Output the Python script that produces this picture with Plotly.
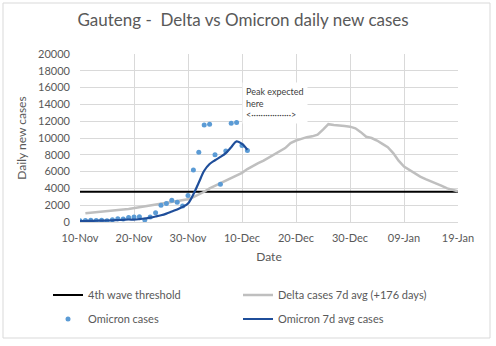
import plotly.graph_objects as go
import pandas as pd

# ---- data ----
omicron_start = "2021-11-10"
omicron_cases = [150, 180, 200, 170, 220, 150, 280, 400, 350, 550, 600, 620, 250, 600,
                 1100, 2000, 2200, 2600, 2350, 1900, 3150, 6200, 8300, 11550, 11650,
                 8000, 4500, 8450, 11750, 11850, 9100, 8500]
omicron_7d = [100, 120, 140, 150, 170, 180, 200, 230, 260, 300, 280, 340, 420, 520,
              650, 800, 1000, 1250, 1500, 1800, 2200, 3300, 4700, 6100, 6900, 7350,
              7750, 8200, 8900, 9600, 9300, 8600]
delta_start = "2021-11-11"
delta_7d = [1050, 1100, 1150, 1200, 1250, 1320, 1400, 1480, 1550, 1650, 1750, 1850,
            1950, 2050, 2150, 2250, 2350, 2450, 2550, 2700, 2950, 3250, 3600, 4000,
            4300, 4600, 4900, 5200, 5500, 5850, 6300, 6700, 7000, 7300, 7700, 8050,
            8400, 8800, 9400, 9700, 9900, 10100, 10200, 10400, 11000, 11650, 11550,
            11450, 11430, 11350, 11150, 10700, 10150, 10000, 9700, 9300, 8900, 8200,
            7300, 6600, 6200, 5700, 5400, 5100, 4850, 4600, 4300, 4000, 3800, 3650]
threshold_dates = ["2021-11-10", "2022-01-19"]
threshold_value = [3600, 3600]
annotation_date = "2021-12-10"
annotation_value = 16700

omicron_dates = pd.date_range(omicron_start, periods=len(omicron_cases), freq="D")
delta_dates = pd.date_range(delta_start, periods=len(delta_7d), freq="D")

FONT = "Lato"
TXT = "#595959"

fig = go.Figure()
fig.add_trace(go.Scatter(x=threshold_dates, y=threshold_value, mode="lines",
                         name="4th wave threshold", line=dict(color="#000000", width=2),
                         legend="legend"))
fig.add_trace(go.Scatter(x=delta_dates, y=delta_7d, mode="lines",
                         name="Delta cases 7d avg (+176 days)",
                         line=dict(color="#bfbfbf", width=2.5), legend="legend"))
fig.add_trace(go.Scatter(x=omicron_dates, y=omicron_cases, mode="markers",
                         name="Omicron cases",
                         marker=dict(color="#5b9bd5", size=5), legend="legend2"))
fig.add_trace(go.Scatter(x=omicron_dates, y=omicron_7d, mode="lines",
                         name="Omicron 7d avg cases", line_shape="spline",
                         line=dict(color="#1f4e9a", width=2.2), legend="legend2"))

W, H = 496, 346
L, R, T, B = 80, 38, 54, 124
pw, ph = W - L - R, H - T - B

def px(x):
    return (x - L) / pw

def py(y):
    return (H - B - y) / ph

fig.add_annotation(x=annotation_date, y=annotation_value, xanchor="left", yanchor="top",
                   text="Peak expected<br>here<br>&lt;·················&gt;", showarrow=False,
                   align="left", bgcolor="white", borderpad=3,
                   font=dict(family=FONT, size=9, color="#404040"))

fig.add_shape(type="rect", xref="paper", yref="paper", x0=px(3), x1=px(490),
              y0=py(338), y1=py(3), line=dict(color="#d9d9d9", width=1), layer="below")

fig.update_layout(
    width=W, height=H,
    margin=dict(l=L, r=R, t=T, b=B),
    paper_bgcolor="white", plot_bgcolor="white",
    font=dict(family=FONT, color=TXT, size=11),
    title=dict(text="Gauteng -  Delta vs Omicron daily new cases", x=0.49, xanchor="center",
               y=1 - 20 / H, yanchor="middle", font=dict(size=17, color=TXT)),
    xaxis=dict(range=["2021-11-10", "2022-01-19"], tick0="2021-11-10", dtick=10 * 86400000,
               tickformat="%d-%b", showgrid=True, gridcolor="#d9d9d9", gridwidth=1,
               showline=True, linecolor="#d9d9d9", ticks="", zeroline=False,
               ticklabelstandoff=6,
               title=dict(text="Date", standoff=9, font=dict(size=12)),
               tickfont=dict(size=11)),
    yaxis=dict(range=[0, 20000], dtick=2000, tickformat="d", showgrid=True, gridcolor="#d9d9d9",
               showline=False, zeroline=False, ticks="", ticklabelstandoff=9,
               title=dict(text="Daily new cases", standoff=8, font=dict(size=12)),
               tickfont=dict(size=11)),
    legend=dict(orientation="h", x=px(48), xanchor="left", y=py(295), yanchor="middle",
                entrywidth=145, font=dict(size=11, color=TXT), bgcolor="rgba(0,0,0,0)"),
    legend2=dict(orientation="h", x=px(48), xanchor="left", y=py(319), yanchor="middle",
                 entrywidth=145, font=dict(size=11, color=TXT), bgcolor="rgba(0,0,0,0)"),
    showlegend=True,
)

fig.write_html("out.html")
